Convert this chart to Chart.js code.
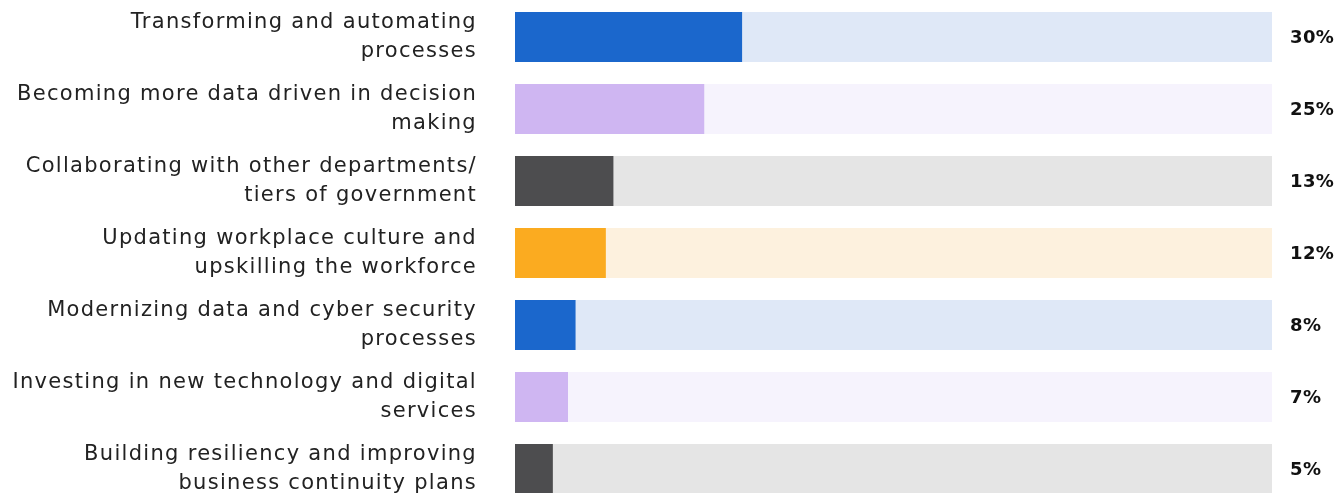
<!DOCTYPE html>
<html>
<head>
<meta charset="utf-8">
<script src="https://cdn.jsdelivr.net/npm/chart.js@4.4.0/dist/chart.umd.min.js"></script>
<style>
html,body{margin:0;padding:0;background:#fff;overflow:hidden;}
#wrap{position:relative;width:1338px;height:506px;}
</style>
</head>
<body>
<div id="wrap"><canvas id="c"></canvas></div>
<script>
const categories = [
  ["Transforming and automating", "processes"],
  ["Becoming more data driven in decision", "making"],
  ["Collaborating with other departments/", "tiers of government"],
  ["Updating workplace culture and", "upskilling the workforce"],
  ["Modernizing data and cyber security", "processes"],
  ["Investing in new technology and digital", "services"],
  ["Building resiliency and improving", "business continuity plans"]
];
const values = [30, 25, 13, 12, 8, 7, 5];
const totals = [100, 100, 100, 100, 100, 100, 100];
const valueLabels = ["30%", "25%", "13%", "12%", "8%", "7%", "5%"];
const barColors = ["#1b67cc", "#cfb6f2", "#4d4d4f", "#fbab20", "#1b67cc", "#cfb6f2", "#4d4d4f"];
const trackColors = ["#dfe8f7", "#f6f3fd", "#e5e5e5", "#fdf1de", "#dfe8f7", "#f6f3fd", "#e5e5e5"];

const spacingPlugin = {
  id: 'spacing',
  beforeDraw(chart) { chart.ctx.letterSpacing = '1.3px'; }
};

const valueLabelPlugin = {
  id: 'valueLabels',
  afterDatasetsDraw(chart) {
    const ctx = chart.ctx;
    const xs = chart.scales.x, ys = chart.scales.y;
    ctx.save();
    ctx.letterSpacing = '0.4px';
    ctx.font = 'bold 18px "DejaVu Sans", sans-serif';
    ctx.fillStyle = '#111';
    ctx.textAlign = 'left';
    ctx.textBaseline = 'middle';
    valueLabels.forEach((t, i) => {
      ctx.fillText(t, xs.getPixelForValue(100) + 18, ys.getPixelForValue(i) + 1);
    });
    ctx.restore();
  }
};

new Chart(document.getElementById('c'), {
  type: 'bar',
  data: {
    labels: categories,
    datasets: [
      { data: values, backgroundColor: barColors, grouped: false, order: 1,
        barPercentage: 1, categoryPercentage: 50/72 },
      { data: totals, backgroundColor: trackColors, grouped: false, order: 2,
        barPercentage: 1, categoryPercentage: 50/72 }
    ]
  },
  options: {
    indexAxis: 'y',
    responsive: true,
    maintainAspectRatio: false,
    animation: false,
    layout: { padding: { top: 1, bottom: 1, left: 0, right: 66 } },
    plugins: { legend: { display: false }, tooltip: { enabled: false } },
    scales: {
      x: { min: 0, max: 100, display: false },
      y: {
        grid: { display: false, drawTicks: false },
        border: { display: false },
        ticks: {
          padding: 38,
          color: '#222',
          font: { family: '"DejaVu Sans", sans-serif', size: 21, lineHeight: 29/21 }
        },
        afterFit(scale) {
          scale.width = 515;
          scale.paddingTop = 0;
          scale.paddingBottom = 0;
        }
      }
    }
  },
  plugins: [spacingPlugin, valueLabelPlugin]
});
</script>
</body>
</html>
